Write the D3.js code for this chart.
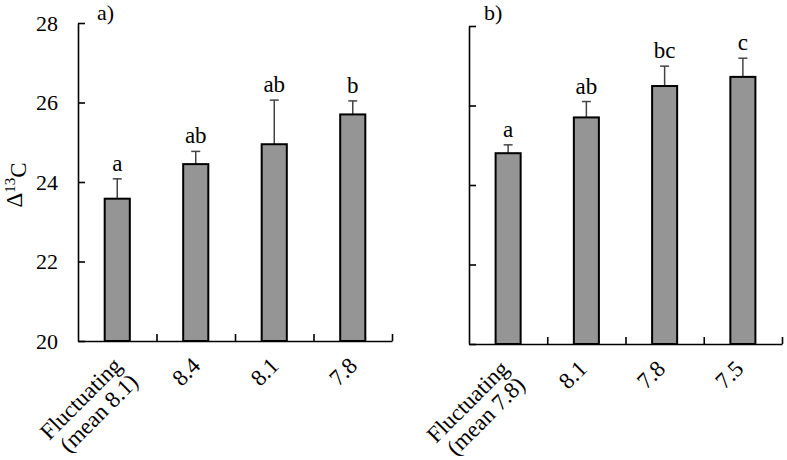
<!DOCTYPE html>
<html>
<head>
<meta charset="utf-8">
<script src="https://cdn.jsdelivr.net/npm/d3@7"></script>
<style>
  body { margin: 0; background: #fff; }
  svg text { font-family: "Times New Roman", "Liberation Serif", Tinos, Times, serif; fill: #000; }
</style>
</head>
<body>
<div id="chart"></div>
<script>
// panel a)
var catsA = ["Fluctuating\n(mean 8.1)", "8.4", "8.1", "7.8"];
var meansA = [23.58, 24.45, 24.95, 25.70];
var errA = [0.50, 0.32, 1.11, 0.34];
var lettersA = ["a", "ab", "ab", "b"];

// panel b)
var catsB = ["Fluctuating\n(mean 7.8)", "8.1", "7.8", "7.5"];
var meansB = [24.80, 25.70, 26.49, 26.72];
var errB = [0.21, 0.40, 0.50, 0.47];
var lettersB = ["a", "ab", "bc", "c"];

var yTicks = [20, 22, 24, 26, 28];

var svgWidth = 787, svgHeight = 460;

var svg = d3.select("#chart")
    .append("svg")
    .attr("width", svgWidth)
    .attr("height", svgHeight);

function drawPanel(opts) {
    var w = opts.width, h = opts.height;
    var g = svg.append("g")
        .attr("transform", `translate(${opts.left}, ${opts.top})`);

    var yScale = d3.scaleLinear().domain([20, 28]).range([h, 0]);
    var xScale = d3.scaleBand().domain(opts.cats).range([0, w]).padding(0);
    var xLin = d3.scaleLinear().domain([0, opts.cats.length]).range([0, w]);
    var barW = xScale.bandwidth() * 0.32;

    // y axis, ticks pointing in
    var yAxis = d3.axisLeft(yScale)
        .tickValues(yTicks)
        .tickSizeInner(-7)
        .tickSizeOuter(0)
        .tickPadding(20);
    if (!opts.labels) yAxis.tickFormat("");
    var ya = g.append("g").call(yAxis);
    ya.attr("font-family", null);
    ya.selectAll("text").style("font-size", "22px");

    // x axis, ticks between categories
    var xAxis = d3.axisBottom(xLin)
        .tickValues(d3.range(1, opts.cats.length + 1))
        .tickSizeInner(-7)
        .tickSizeOuter(0)
        .tickFormat("");
    g.append("g")
        .attr("transform", `translate(0, ${h})`)
        .call(xAxis);

    g.selectAll(".domain, .tick line")
        .attr("stroke", "#000")
        .attr("stroke-width", 1.6);

    var rows = opts.cats.map((c, i) => ({
        cat: c, mean: opts.means[i], err: opts.err[i], letter: opts.letters[i]
    }));

    var cx = d => xScale(d.cat) + xScale.bandwidth() / 2;

    // error bars (upper only)
    g.selectAll(".err")
        .data(rows)
        .enter()
        .append("line")
        .attr("x1", cx)
        .attr("x2", cx)
        .attr("y1", d => yScale(d.mean))
        .attr("y2", d => yScale(d.mean + d.err))
        .attr("stroke", "#444")
        .attr("stroke-width", 1.5);

    g.selectAll(".cap")
        .data(rows)
        .enter()
        .append("line")
        .attr("x1", d => cx(d) - 4.5)
        .attr("x2", d => cx(d) + 4.5)
        .attr("y1", d => yScale(d.mean + d.err))
        .attr("y2", d => yScale(d.mean + d.err))
        .attr("stroke", "#444")
        .attr("stroke-width", 1.5);

    // bars
    g.selectAll(".bar")
        .data(rows)
        .enter()
        .append("rect")
        .attr("x", d => cx(d) - barW / 2)
        .attr("y", d => yScale(d.mean))
        .attr("width", barW)
        .attr("height", d => h - yScale(d.mean))
        .attr("fill", "#959595")
        .attr("stroke", "#000")
        .attr("stroke-width", 2);

    // significance letters
    g.selectAll(".letter")
        .data(rows)
        .enter()
        .append("text")
        .attr("x", cx)
        .attr("y", d => yScale(d.mean + d.err) - 8)
        .attr("text-anchor", "middle")
        .style("font-size", "23px")
        .text(d => d.letter);

    // rotated category labels
    var lab = g.selectAll(".xlab")
        .data(rows)
        .enter()
        .append("text")
        .attr("text-anchor", "end")
        .style("font-size", "23px")
        .attr("transform", d => `translate(${cx(d) + opts.labDx}, ${h + 26}) rotate(-45)`);
    lab.each(function (d) {
        var lines = d.cat.split("\n");
        var t = d3.select(this);
        lines.forEach((l, i) => {
            t.append("tspan")
                .attr("x", 0)
                .attr("dy", i === 0 ? 0 : "1.0em")
                .text(l);
        });
    });

    // panel letter
    g.append("text")
        .attr("x", opts.tagX)
        .attr("y", opts.tagY)
        .style("font-size", "22px")
        .text(opts.tag);

    return g;
}

drawPanel({
    left: 78, top: 23, width: 314, height: 318,
    cats: catsA, means: meansA, err: errA, letters: lettersA,
    labels: true, tag: "a)", tagX: 19, tagY: -3, labDx: 6
});

drawPanel({
    left: 469, top: 26, width: 313, height: 318,
    cats: catsB, means: meansB, err: errB, letters: lettersB,
    labels: false, tag: "b)", tagX: 15, tagY: -6, labDx: 2
});

// y axis title
var yt = svg.append("text")
    .attr("transform", `translate(22, 185) rotate(-90)`)
    .attr("text-anchor", "middle")
    .style("font-size", "23px");
yt.append("tspan").text("\u0394");
yt.append("tspan").attr("dy", "-0.45em").style("font-size", "15px").text("13");
yt.append("tspan").attr("dy", "0.45em").text("C");
</script>
</body>
</html>
